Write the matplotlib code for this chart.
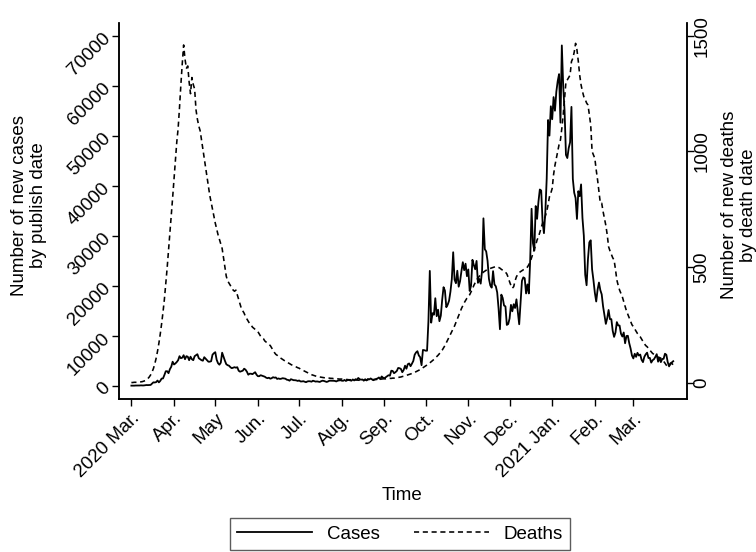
import numpy as np
import pandas as pd
import matplotlib
matplotlib.use('Agg')
import matplotlib.pyplot as plt
import matplotlib.dates as mdates

plt.rcParams['font.family'] = ['Liberation Sans', 'DejaVu Sans']
FS = 13.5

# daily new cases by publish date, one list per month
cases_2020_03 = [12, 4, 11, 34, 30, 48, 43, 67, 48, 52, 83, 134, 117, 133, 152, 407, 676, 643, 714, 1035,
                 665, 967, 1427, 1452, 2129, 2885, 2900, 2500, 3300, 3800, 4800]
cases_2020_04 = [4244, 4450, 4735, 5100, 5903, 5500, 5600, 6100, 5300, 5900, 5800, 5100, 5800, 5300, 5100,
                 5900, 6100, 6300, 5500, 5300, 5100, 5000, 5700, 5400, 5100, 4800, 4800, 4900, 6200, 6500]
cases_2020_05 = [6700, 5200, 4500, 4200, 4600, 6600, 5800, 5000, 4300, 4100, 4000, 3700, 3500, 3600, 3700,
                 3600, 3700, 3000, 2800, 2900, 3000, 3400, 3200, 2800, 2200, 2400, 2400, 2300, 2500, 2700, 2200]
cases_2020_06 = [1900, 1900, 2100, 2000, 1900, 1800, 1600, 1500, 1600, 1400, 1500, 1700, 1600, 1650, 1350,
                 1450, 1350, 1400, 1500, 1450, 1400, 1200, 1150, 1000, 1300, 1200, 1100, 1100, 1050, 950]
cases_2020_07 = [1050, 850, 850, 900, 800, 700, 850, 900, 880, 800, 1000, 900, 820, 860, 800, 750, 900,
                 1000, 950, 850, 750, 850, 1000, 1000, 1000, 980, 950, 850, 1000, 1050, 1100]
cases_2020_08 = [1000, 980, 1150, 950, 1100, 1150, 1080, 1000, 1250, 1050, 1300, 1200, 1550, 1300, 1200,
                 1250, 1000, 1300, 1050, 1350, 1250, 1450, 1250, 1100, 1250, 1350, 1450, 1650, 1300, 1850, 1600]
cases_2020_09 = [1500, 1700, 1900, 2100, 2000, 3000, 2950, 2500, 2700, 2950, 3550, 3500, 3350, 2700, 3150,
                 4000, 3400, 4300, 4450, 3900, 4400, 4950, 6200, 6650, 6900, 6050, 5700, 4100, 7150, 7100]
cases_2020_10 = [7000, 7000, 12900, 22961, 12600, 14500, 14200, 17500, 13900, 15200, 12900, 14000, 17200,
                 19700, 19000, 15700, 16200, 17000, 18800, 21300, 26688, 21200, 20500, 23000, 19800, 20900,
                 22900, 24700, 23100, 24400, 21900]
cases_2020_11 = [23254, 18950, 20018, 25177, 24141, 23287, 24957, 20572, 21350, 20412, 22950, 33470, 27301,
                 26860, 24962, 21363, 20051, 19609, 22915, 20252, 19875, 18662, 15450, 11299, 18213, 17555,
                 16022, 15871, 12155, 12330]
cases_2020_12 = [13430, 16170, 14879, 16298, 15539, 17272, 14718, 12282, 16578, 20964, 21672, 21502, 18447,
                 20263, 18450, 25161, 35383, 28507, 27052, 35928, 33364, 36804, 39237, 39036, 32725, 30501,
                 34693, 41385, 53135, 50023, 55892]
cases_2021_01 = [53285, 57725, 54990, 58784, 60916, 62322, 52618, 68053, 59937, 54940, 46165, 45533, 47525,
                 48682, 55761, 41346, 38598, 37535, 33355, 38905, 37892, 40261, 33552, 30004, 22195, 20089,
                 25308, 28680, 29079, 23275, 21088]
cases_2021_02 = [18607, 16840, 19202, 20634, 19114, 18262, 15845, 14104, 12364, 13494, 15144, 13308, 13313,
                 10972, 9765, 10625, 12718, 12057, 12027, 10406, 9834, 10641, 8489, 9938, 9985, 8523, 7434, 6035]
cases_2021_03 = [5455, 6391, 5766, 6573, 6040, 6234, 5177, 4712, 5766, 6278, 6609, 5534, 5560, 4618, 5089,
                 5294, 5758, 6303, 4802, 5587, 4715, 5342, 5379, 6397, 6187, 4715, 3862, 4500, 4654, 4900]

# daily new deaths by death date
deaths_2020_03 = [0, 0, 1, 1, 1, 2, 2, 3, 4, 6, 8, 12, 17, 24, 33, 45, 60, 80, 105, 135, 170, 210, 255,
                  305, 360, 425, 495, 570, 650, 720, 800]
deaths_2020_04 = [880, 960, 1040, 1100, 1190, 1290, 1380, 1461, 1400, 1360, 1370, 1300, 1250, 1320, 1290,
                  1270, 1180, 1140, 1110, 1090, 1050, 1010, 970, 930, 890, 850, 810, 780, 750, 720]
deaths_2020_05 = [690, 665, 640, 620, 600, 580, 540, 500, 460, 440, 430, 420, 410, 400, 395, 400, 380, 360,
                  340, 320, 310, 300, 285, 275, 265, 255, 250, 240, 235, 230, 225]
deaths_2020_06 = [220, 210, 200, 195, 190, 180, 175, 170, 165, 160, 150, 140, 130, 122, 118, 112, 108, 104,
                  100, 96, 92, 88, 85, 82, 78, 75, 72, 70, 67, 64]
deaths_2020_07 = [62, 58, 55, 52, 49, 46, 43, 40, 37, 34, 32, 30, 28, 26, 25, 24, 23, 22, 21, 20, 20, 19,
                  19, 18, 18, 17, 17, 16, 16, 15, 15]
deaths_2020_08 = [15, 14, 14, 13, 13, 12, 12, 12, 11, 11, 11, 11, 10, 10, 10, 10, 11, 11, 11, 12, 12, 12,
                  12, 13, 13, 13, 14, 14, 15, 15, 16]
deaths_2020_09 = [16, 16, 17, 17, 18, 18, 19, 19, 20, 21, 22, 23, 24, 26, 27, 29, 31, 33, 35, 37, 39, 41,
                  44, 47, 50, 53, 56, 60, 64, 68]
deaths_2020_10 = [72, 76, 80, 85, 90, 95, 100, 106, 112, 118, 125, 132, 140, 150, 160, 172, 184, 196, 208,
                  220, 232, 245, 260, 275, 290, 305, 320, 333, 345, 355, 365]
deaths_2020_11 = [372, 380, 392, 405, 420, 432, 444, 452, 460, 466, 472, 478, 482, 486, 490, 492, 494, 496,
                  498, 500, 502, 500, 498, 495, 490, 486, 482, 478, 470, 455]
deaths_2020_12 = [436, 420, 408, 415, 440, 458, 468, 476, 480, 484, 488, 490, 494, 500, 510, 522, 540, 559,
                  575, 595, 617, 630, 650, 670, 690, 703, 720, 740, 770, 804, 820]
deaths_2021_01 = [840, 900, 940, 970, 1000, 1030, 1050, 1100, 1158, 1230, 1302, 1310, 1320, 1331, 1389,
                  1403, 1430, 1468, 1440, 1389, 1330, 1288, 1260, 1237, 1225, 1210, 1201, 1160, 1115, 1000, 985]
deaths_2021_02 = [970, 920, 877, 826, 776, 776, 740, 710, 680, 640, 588, 570, 555, 540, 530, 490, 444, 420,
                  400, 385, 371, 350, 330, 310, 295, 280, 265, 250]
deaths_2021_03 = [242, 232, 222, 212, 205, 198, 188, 178, 168, 160, 155, 148, 140, 133, 126, 122, 118, 114,
                  110, 108, 105, 100, 92, 84, 75, 68, 72, 80, 83, 76]

cases = (cases_2020_03 + cases_2020_04 + cases_2020_05 + cases_2020_06 + cases_2020_07 + cases_2020_08
         + cases_2020_09 + cases_2020_10 + cases_2020_11 + cases_2020_12 + cases_2021_01 + cases_2021_02
         + cases_2021_03)
deaths = (deaths_2020_03 + deaths_2020_04 + deaths_2020_05 + deaths_2020_06 + deaths_2020_07 + deaths_2020_08
          + deaths_2020_09 + deaths_2020_10 + deaths_2020_11 + deaths_2020_12 + deaths_2021_01
          + deaths_2021_02 + deaths_2021_03)
dates = pd.date_range('2020-03-01', periods=len(cases), freq='D')

month_ticks = pd.date_range('2020-03-01', '2021-03-01', freq='MS')
month_labels = ['2020 Mar.', 'Apr.', 'May', 'Jun.', 'Jul.', 'Aug.', 'Sep.', 'Oct.', 'Nov.', 'Dec.',
                '2021 Jan.', 'Feb.', 'Mar.']
case_ticks = [0, 10000, 20000, 30000, 40000, 50000, 60000, 70000]
death_ticks = [0, 500, 1000, 1500]

fig = plt.figure(figsize=(7.56, 5.52), dpi=100)
ax = fig.add_axes([119 / 756, 1 - 398.7 / 552, (686.7 - 119) / 756, (398.7 - 23) / 552])
ax2 = ax.twinx()

l1, = ax.plot(dates, cases, color='black', lw=1.3, label='Cases')
l2, = ax2.plot(dates, deaths, color='black', lw=1.15, linestyle=(0, (3.2, 2.3)), label='Deaths')

x0 = mdates.date2num(pd.Timestamp('2020-03-01'))
ax.set_xlim(x0 - 9.0, x0 + 403.8)
ax.set_ylim(-2600, 72540)
ax2.set_ylim(-70, 1556)

ax.set_xticks(month_ticks)
ax.set_xticklabels(month_labels, rotation=45, ha='right', va='top', rotation_mode='anchor', fontsize=FS)
ax.set_yticks(case_ticks)
ax.set_yticklabels([str(v) for v in case_ticks], rotation=45, ha='right', va='center',
                   rotation_mode='anchor', fontsize=FS)
ax2.set_yticks(death_ticks)
ax2.set_yticklabels([str(v) for v in death_ticks], rotation=90, ha='center', va='center', fontsize=FS)

for a in (ax, ax2):
    a.spines['top'].set_visible(False)
    for s in a.spines.values():
        s.set_linewidth(1.1)
    a.tick_params(direction='out', length=5, width=1.0, pad=3)
ax2.tick_params(axis='y', pad=6)

fig.text(29 / 756, 1 - 205 / 552, 'Number of new cases\nby publish date', rotation=90,
         ha='center', va='center', multialignment='center', fontsize=FS)
fig.text(739 / 756, 1 - 205 / 552, 'Number of new deaths\nby death date', rotation=90,
         ha='center', va='center', multialignment='center', fontsize=FS)
fig.text(402 / 756, 1 - 495 / 552, 'Time', ha='center', va='center', fontsize=FS)

leg = fig.legend(handles=[l1, l2], loc='lower center', bbox_to_anchor=(400 / 756, 0.003), ncol=2,
                 fontsize=FS, frameon=True, fancybox=False, edgecolor='#333333', handlelength=4.0,
                 handletextpad=0.8, columnspacing=1.8, borderpad=0.4, borderaxespad=0)
leg.get_frame().set_linewidth(1.0)

fig.savefig('out.png', dpi=100)
